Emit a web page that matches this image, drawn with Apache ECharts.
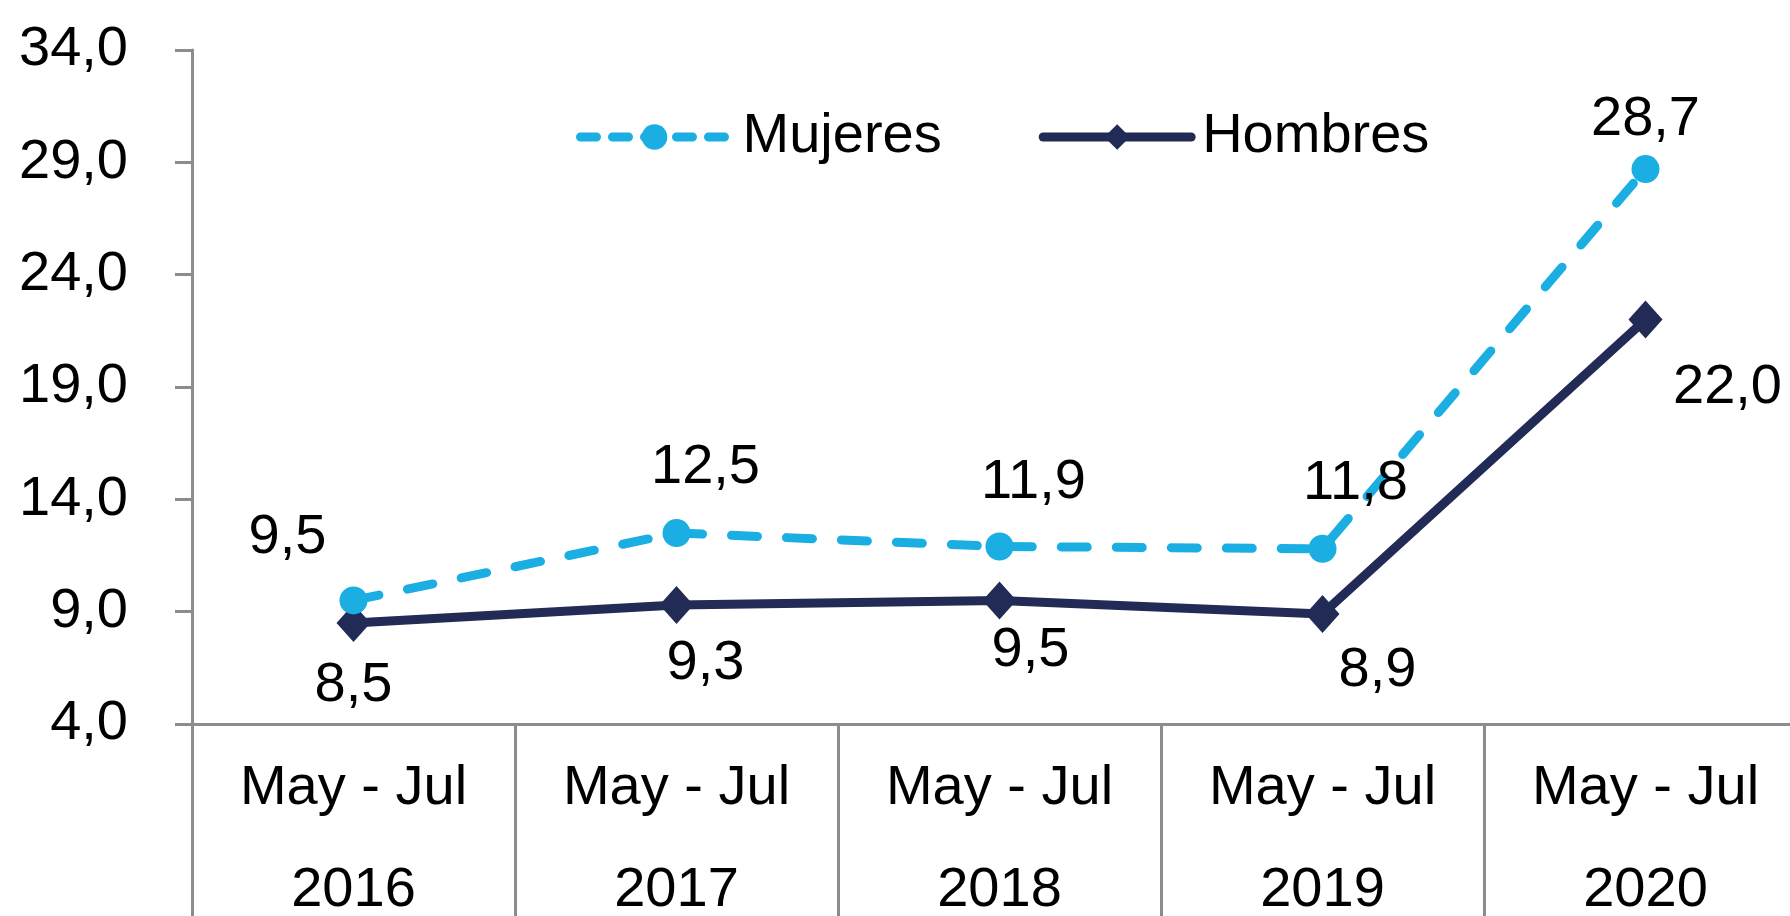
<!DOCTYPE html>
<html><head><meta charset="utf-8">
<script src="https://cdn.jsdelivr.net/npm/echarts@6/dist/echarts.min.js"></script>
<style>html,body{margin:0;padding:0;background:#fff}#c{width:1790px;height:916px}</style>
</head><body><div id="c"></div>
<script>
const categories = ['May - Jul\n2016', 'May - Jul\n2017', 'May - Jul\n2018', 'May - Jul\n2019', 'May - Jul\n2020'];
const mujeres = [9.5, 12.5, 11.9, 11.8, 28.7];
const hombres = [8.5, 9.3, 9.5, 8.9, 22.0];
const yTicks = { min: 4, max: 34, interval: 5 };

// label offsets (style only)
const mujOff = [[-66, -63], [29, -65], [34, -64], [33, -65], [0, -50]];
const homOff = [[0, 63], [29, 59], [31, 50], [55, 57], [82, 68]];

const FONT = '"Liberation Sans", Arial, sans-serif';
const fmt = v => Number(v).toFixed(1).replace('.', ',');

function items(vals, offs) {
  return vals.map((v, i) => ({ value: v, label: { offset: offs[i] } }));
}

const MUJ = '#1aaee3', HOM = '#222a56';

const chart = echarts.init(document.getElementById('c'));
chart.setOption({
  animation: false,
  backgroundColor: '#fff',
  grid: { left: 192, top: 50, width: 1615, height: 674, containLabel: false, outerBoundsMode: 'none' },
  legend: {
    left: 571, top: 104,
    itemWidth: 148, itemHeight: 32, itemGap: 97,
    textStyle: { fontFamily: FONT, fontSize: 56, color: '#000' },
    data: [
      { name: 'Mujeres', lineStyle: { width: 9, type: [16, 16], cap: 'round', color: MUJ },
        textStyle: { padding: [0, 0, 0, 9] } },
      { name: 'Hombres', lineStyle: { width: 9, cap: 'round', color: HOM },
        textStyle: { padding: [0, 0, 0, 6] } }
    ]
  },
  xAxis: {
    type: 'category', data: categories, boundaryGap: true,
    axisLine: { lineStyle: { color: '#8c8c8c', width: 3 } },
    axisTick: { show: true, length: 200, lineStyle: { color: '#8c8c8c', width: 3 } },
    axisLabel: { fontFamily: FONT, fontSize: 56, color: '#000', lineHeight: 102, margin: 14, interval: 0 }
  },
  yAxis: {
    type: 'value', min: yTicks.min, max: yTicks.max, interval: yTicks.interval,
    splitLine: { show: false },
    axisLine: { show: true, lineStyle: { color: '#8c8c8c', width: 3 } },
    axisTick: { show: true, length: 17, lineStyle: { color: '#8c8c8c', width: 3 } },
    axisLabel: { fontFamily: FONT, fontSize: 56, color: '#000', margin: 64, formatter: fmt }
  },
  series: [
    {
      name: 'Mujeres', type: 'line', data: items(mujeres, mujOff),
      symbol: 'circle', symbolSize: 28,
      lineStyle: { color: MUJ, width: 9, type: [26, 29], cap: 'round' },
      itemStyle: { color: MUJ },
      label: { show: true, position: 'inside', fontFamily: FONT, fontSize: 56, color: '#000', formatter: p => fmt(p.value) },
      z: 3
    },
    {
      name: 'Hombres', type: 'line', data: items(hombres, homOff),
      symbol: 'diamond', symbolSize: [34, 38],
      lineStyle: { color: HOM, width: 9 },
      itemStyle: { color: HOM },
      label: { show: true, position: 'inside', fontFamily: FONT, fontSize: 56, color: '#000', formatter: p => fmt(p.value) },
      z: 2
    }
  ]
});
</script></body></html>
